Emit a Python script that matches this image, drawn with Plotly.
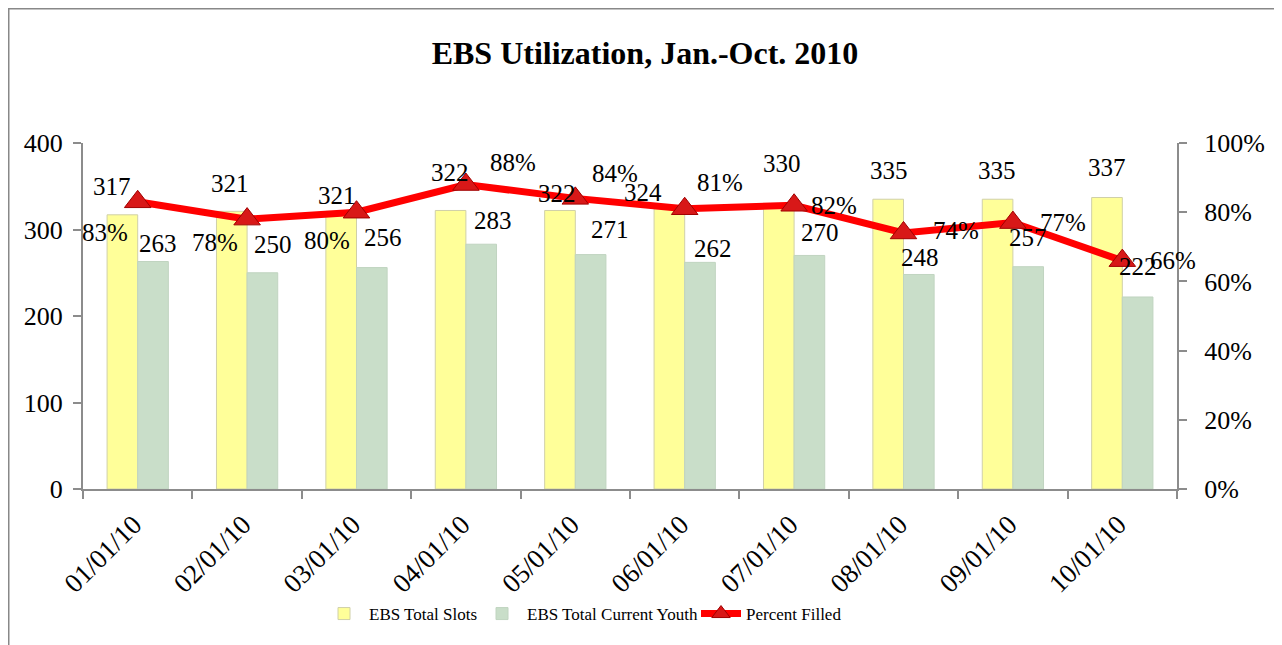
import plotly.graph_objects as go

categories = ["01/01/10", "02/01/10", "03/01/10", "04/01/10", "05/01/10",
              "06/01/10", "07/01/10", "08/01/10", "09/01/10", "10/01/10"]
total_slots = [317, 321, 321, 322, 322, 324, 330, 335, 335, 337]
current_youth = [263, 250, 256, 283, 271, 262, 270, 248, 257, 222]
percent_filled = [83, 78, 80, 88, 84, 81, 82, 74, 77, 66]

# label offsets (pixels) to mimic the hand-placed Excel data labels
slot_off = [(-26, 28), (-17, 28), (-20, 16), (-16, 38), (-18, 17),
            (-42, 16), (-12, 40), (-15, 29), (-16, 29), (-15, 30)]
youth_off = [(20, 18), (26, 28), (26, 30), (27, 24), (35, 25),
             (28, 14), (26, 23), (16, 17), (15, 29), (16, 30)]
pct_off = [(-33, -31), (-32, -23), (-30, -28), (47, 22), (40, 25),
           (35, 26), (40, 0), (52, 2), (50, 0), (51, 0)]

FONT = "Liberation Serif, Times New Roman, serif"
AX = "#8c8c8c"
LBL = 25

# page body has an 8px margin; figure coordinates = screen - 8
W, H = 1274, 637
L, T, PW, PH = 75, 135, 1094, 346

fig = go.Figure()
fig.add_trace(go.Bar(
    x=categories, y=total_slots, name="EBS Total Slots", legend="legend",
    marker=dict(color="#FFFF99", line=dict(color="#d0d0a8", width=1)),
))
fig.add_trace(go.Bar(
    x=categories, y=current_youth, name="EBS Total Current Youth", legend="legend2",
    marker=dict(color="#C9DEC9", line=dict(color="#c0d4c0", width=1)),
))
fig.add_trace(go.Scatter(
    x=categories, y=[p / 100 for p in percent_filled], name="Percent Filled",
    legend="legend3",
    yaxis="y2", mode="lines+markers",
    line=dict(color="#FF0000", width=7),
    marker=dict(symbol="triangle-up", size=23, color="#D81818",
                line=dict(color="#A00000", width=1)),
))

ann = []
for i, c in enumerate(categories):
    ann.append(dict(x=c, y=total_slots[i], xref="x", yref="y", text=str(total_slots[i]),
                    showarrow=False, xshift=slot_off[i][0], yshift=slot_off[i][1],
                    font=dict(family=FONT, size=LBL, color="black")))
    ann.append(dict(x=c, y=current_youth[i], xref="x", yref="y", text=str(current_youth[i]),
                    showarrow=False, xshift=youth_off[i][0], yshift=youth_off[i][1],
                    font=dict(family=FONT, size=LBL, color="black")))
    ann.append(dict(x=c, y=percent_filled[i] / 100, xref="x", yref="y2",
                    text=f"{percent_filled[i]}%",
                    showarrow=False, xshift=pct_off[i][0], yshift=pct_off[i][1],
                    font=dict(family=FONT, size=LBL, color="black")))


def px_x(sx):
    return (sx - 8 - L) / PW


def px_y(sy):
    return (T + PH - (sy - 8)) / PH


leg_common = dict(orientation="h", xanchor="left", yanchor="middle",
                  font=dict(family=FONT, size=17), bgcolor="rgba(0,0,0,0)",
                  itemwidth=40)

fig.update_layout(
    width=W, height=H,
    margin=dict(l=L, r=W - L - PW, t=T, b=H - T - PH, autoexpand=False),
    paper_bgcolor="white", plot_bgcolor="white",
    barmode="group", bargap=0.44, bargroupgap=0,
    title=dict(text="<b>EBS Utilization, Jan.-Oct. 2010</b>", x=0.5, xref="container",
               y=1 - 45 / H, yref="container", yanchor="middle", xanchor="center",
               font=dict(family=FONT, size=32, color="black")),
    font=dict(family=FONT, size=25, color="black"),
    xaxis=dict(type="category", range=[-0.5, len(categories) - 0.5],
               showline=True, linecolor=AX, linewidth=2, automargin=False,
               ticks="outside", tickson="boundaries", ticklen=8, tickcolor=AX, tickwidth=2,
               tickangle=-45, tickfont=dict(family=FONT, size=27), showgrid=False,
               ticklabelshift=-4, ticklabelstandoff=7),
    yaxis=dict(range=[0, 400], dtick=100, showline=True, linecolor=AX, linewidth=2,
               automargin=False, ticklabelstandoff=5,
               ticks="outside", ticklen=8, tickcolor=AX, tickwidth=2, showgrid=False,
               zeroline=False, tickfont=dict(family=FONT, size=26)),
    yaxis2=dict(range=[0, 1], dtick=0.2, tickformat=".0%", overlaying="y", side="right",
                automargin=False, ticklabelstandoff=12,
                showline=True, linecolor=AX, linewidth=2, ticks="outside", ticklen=8,
                tickcolor=AX, tickwidth=2, showgrid=False, zeroline=False,
                tickfont=dict(family=FONT, size=26)),
    legend=dict(x=px_x(319), y=px_y(614), **leg_common),
    legend2=dict(x=px_x(477), y=px_y(614), **leg_common),
    legend3=dict(x=px_x(696), y=px_y(614), **leg_common),
    annotations=ann,
    shapes=[dict(type="rect", xref="paper", yref="paper",
                 x0=(0.5 - L) / PW, x1=(1270 - L) / PW,
                 y0=(T + PH - (H + 10)) / PH, y1=(T + PH - 0.5) / PH,
                 line=dict(color="#888888", width=2), fillcolor="rgba(0,0,0,0)",
                 layer="below")],
    showlegend=True,
)

fig.write_html("out.html")
